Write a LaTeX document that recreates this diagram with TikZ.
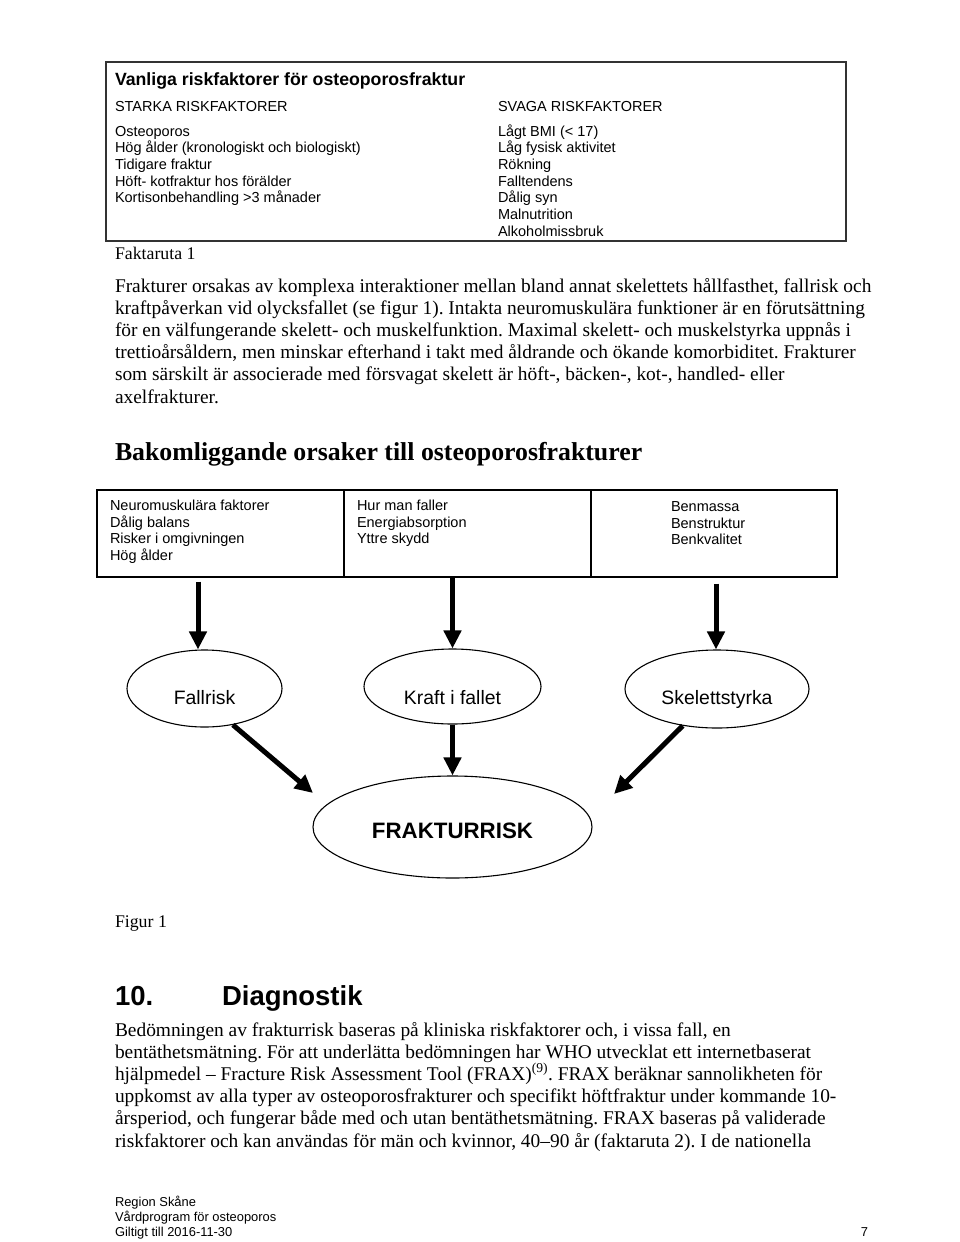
\documentclass[tikz,border=0pt]{standalone}
\usepackage{fontspec}
\setmainfont{Liberation Serif}
\setsansfont{Liberation Sans}
\usetikzlibrary{arrows.meta,shapes.geometric,calc}
\frenchspacing
\newcommand{\lowtext}[2]{\smash{\raisebox{-#1pt}{#2}}}
\begin{document}
\begin{tikzpicture}[x=1pt,y=-1pt,
  txt/.style={anchor=base west,inner sep=0pt,outer sep=0pt},
  boxtxt/.style={txt,font=\sffamily\fontsize{14.5}{16.7}\selectfont},
  titletxt/.style={txt,font=\sffamily\bfseries\fontsize{17.7}{20}\selectfont},
  body/.style={txt,font=\fontsize{19.4}{22.3}\selectfont},
  captxt/.style={txt,font=\fontsize{17.8}{20}\selectfont},
  headtxt/.style={txt,font=\bfseries\fontsize{25.8}{30}\selectfont},
  secttxt/.style={txt,font=\sffamily\bfseries\fontsize{27.5}{30}\selectfont},
  foot/.style={txt,font=\sffamily\fontsize{12.9}{15}\selectfont},
  fbox/.style={draw,line width=1.3pt,inner sep=0pt,rectangle},
  oval/.style={ellipse,draw,line width=1.1pt,inner sep=0pt,font=\sffamily\fontsize{19.4}{22}\selectfont},
  arr/.style={line width=5pt,-{Triangle[length=18pt,width=17pt]}}
]
\useasboundingbox (0,0) rectangle (960,1242);
\fill[white] (0,0) rectangle (960,1242);

% ---------- Faktaruta 1 ----------
\node[fbox,draw=black!80,minimum width=740pt,minimum height=179pt] (fakta) at (476,151.5) {};
\node[titletxt] (t0) at (115,85.4) {Vanliga riskfaktorer för osteoporosfraktur};
\node[boxtxt] (s0) at (115,111.2) {STARKA RISKFAKTORER};
\node[boxtxt] (w0) at (498,111.2) {SVAGA RISKFAKTORER};
\node[boxtxt] (s1) at (115,136.2) {Osteoporos};
\node[boxtxt] (s2) at (115,152.6) {Hög ålder (kronologiskt och biologiskt)};
\node[boxtxt] (s3) at (115,169.3) {Tidigare fraktur};
\node[boxtxt] (s4) at (115,186.0) {Höft- kotfraktur hos förälder};
\node[boxtxt] (s5) at (115,202.7) {Kortisonbehandling >3 månader};
\node[boxtxt] (w1) at (498,136.2) {Lågt BMI (< 17)};
\node[boxtxt] (w2) at (498,152.6) {Låg fysisk aktivitet};
\node[boxtxt] (w3) at (498,169.3) {Rökning};
\node[boxtxt] (w4) at (498,186.0) {Falltendens};
\node[boxtxt] (w5) at (498,202.7) {Dålig syn};
\node[boxtxt] (w6) at (498,219.4) {Malnutrition};
\node[boxtxt] (w7) at (498,236.1) {Alkoholmissbruk};
\node[captxt] (cap1) at (115,259.4) {Faktaruta 1};

% ---------- paragraph ----------
\node[body] (p1) at (115,292.0) {Frakturer orsakas av komplexa interaktioner mellan bland annat skelettets hållfasthet, fallrisk och};
\node[body] (p2) at (115,314.2) {kraftpåverkan vid olycksfallet (se figur 1). Intakta neuromuskulära funktioner är en förutsättning};
\node[body] (p3) at (115,336.4) {för en välfungerande skelett- och muskelfunktion. Maximal skelett- och muskelstyrka uppnås i};
\node[body] (p4) at (115,358.6) {trettioårsåldern, men minskar efterhand i takt med åldrande och ökande komorbiditet. Frakturer};
\node[body] (p5) at (115,380.8) {som särskilt är associerade med försvagat skelett är höft-, bäcken-, kot-, handled- eller};
\node[body] (p6) at (115,403.0) {axelfrakturer.};

\node[headtxt] (head) at (115,460.5) {Bakomliggande orsaker till osteoporosfrakturer};

% ---------- Figur 1 ----------
\node[fbox,minimum width=247pt,minimum height=87pt] (b1) at (220.5,533.5) {};
\node[fbox,minimum width=247pt,minimum height=87pt] (b2) at (467.5,533.5) {};
\node[fbox,minimum width=246pt,minimum height=87pt] (b3) at (714,533.5) {};

\node[boxtxt] (b1a) at (110,510.2) {Neuromuskulära faktorer};
\node[boxtxt] (b1b) at (110,527.0) {Dålig balans};
\node[boxtxt] (b1c) at (110,543.8) {Risker i omgivningen};
\node[boxtxt] (b1d) at (110,560.4) {Hög ålder};
\node[boxtxt] (b2a) at (357,510.2) {Hur man faller};
\node[boxtxt] (b2b) at (357,527.0) {Energiabsorption};
\node[boxtxt] (b2c) at (357,543.6) {Yttre skydd};
\node[boxtxt] (b3a) at (671,511.2) {Benmassa};
\node[boxtxt] (b3b) at (671,528.0) {Benstruktur};
\node[boxtxt] (b3c) at (671,544.8) {Benkvalitet};

\node[oval,minimum width=155pt,minimum height=77pt] (fall) at (204.5,688.5) {\lowtext{16}{Fallrisk}};
\node[oval,minimum width=177pt,minimum height=75pt] (kraft) at (452.5,686.5) {\lowtext{17.5}{Kraft i fallet}};
\node[oval,minimum width=184pt,minimum height=78pt] (skel) at (717,689) {\lowtext{15}{Skelettstyrka}};
\node[oval,minimum width=279pt,minimum height=102pt,font=\sffamily\bfseries\fontsize{22.3}{25}\selectfont] (fr) at (452.5,827) {\lowtext{11}{FRAKTURRISK}};

\draw[arr] ([xshift=-6.5pt,yshift=-4pt]fall.north |- b1.south) -- ([xshift=-6.5pt]fall.north);
\draw[arr] (kraft.north |- b2.south) -- (kraft.north);
\draw[arr] ([xshift=-1pt,yshift=-6pt]skel.north |- b3.south) -- ([xshift=-1pt]skel.north);

\coordinate (tipL) at (313,793);
\coordinate (tipR) at (614,794);
\draw[arr] (fall.-52) -- (tipL);
\draw[arr] (kraft.south) -- (fr.north);
\draw[arr] (skel.-133.4) -- (tipR);

\node[captxt] (cap2) at (115,927.4) {Figur 1};

% ---------- 10. Diagnostik ----------
\node[secttxt] (sn) at (115,1005.7) {10.};
\node[secttxt] (st) at (222,1005.7) {Diagnostik};

\node[body] (q1) at (115,1036.0) {Bedömningen av frakturrisk baseras på kliniska riskfaktorer och, i vissa fall, en};
\node[body] (q2) at (115,1058.2) {bentäthetsmätning. För att underlätta bedömningen har WHO utvecklat ett internetbaserat};
\node[body] (q3) at (115,1080.4) {hjälpmedel – Fracture Risk Assessment Tool (FRAX)\textsuperscript{(9)}. FRAX beräknar sannolikheten för};
\node[body] (q4) at (115,1102.6) {uppkomst av alla typer av osteoporosfrakturer och specifikt höftfraktur under kommande 10-};
\node[body] (q5) at (115,1124.8) {årsperiod, och fungerar både med och utan bentäthetsmätning. FRAX baseras på validerade};
\node[body] (q6) at (115,1147.0) {riskfaktorer och kan användas för män och kvinnor, 40–90 år (faktaruta 2). I de nationella};

% ---------- footer ----------
\node[foot] (f1) at (115,1206.6) {Region Skåne};
\node[foot] (f2) at (115,1221.6) {Vårdprogram för osteoporos};
\node[foot] (f3) at (115,1236.6) {Giltigt till 2016-11-30};
\node[foot,anchor=base east] (f4) at (868,1236.6) {7};
\end{tikzpicture}
\end{document}
